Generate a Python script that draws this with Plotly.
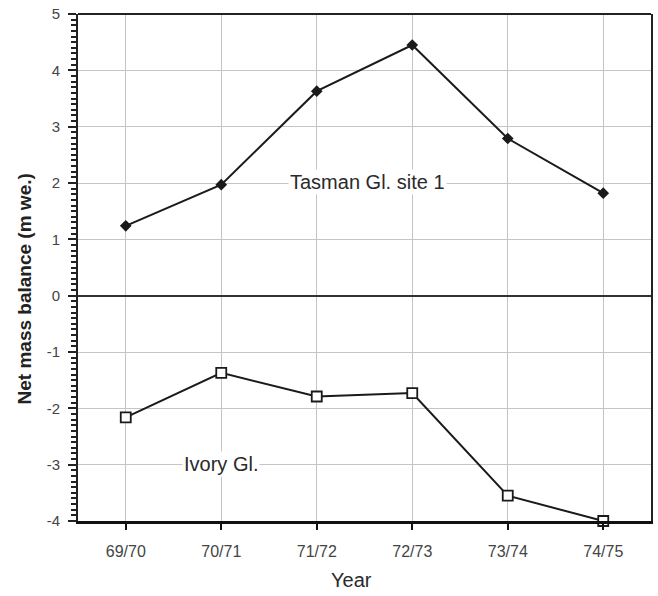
import plotly.graph_objects as go

years = ["69/70", "70/71", "71/72", "72/73", "73/74", "74/75"]
tasman = [1.24, 1.97, 3.63, 4.45, 2.79, 1.82]
ivory = [-2.16, -1.37, -1.79, -1.73, -3.55, -4.0]
y_alias = {"\u22121": "-1", "\u22122": "-2", "\u22123": "-3", "\u22124": "-4"}
y_range = [-4, 5]

FONT = "Liberation Sans, Arial, sans-serif"

fig = go.Figure()
fig.add_trace(go.Scatter(
    x=years, y=tasman, mode="lines+markers", name="Tasman Gl. site 1",
    line=dict(color="#1a1a1a", width=2),
    marker=dict(symbol="diamond", size=9, color="#1a1a1a"),
    cliponaxis=False,
))
fig.add_trace(go.Scatter(
    x=years, y=ivory, mode="lines+markers", name="Ivory Gl.",
    line=dict(color="#1a1a1a", width=2),
    marker=dict(symbol="square", size=10, color="white", line=dict(color="#1a1a1a", width=1.8)),
    cliponaxis=False,
))

fig.add_annotation(x=2.53, y=2.02, text="Tasman Gl. site 1", showarrow=False,
                   font=dict(family=FONT, size=20, color="#2a2a2a"), bgcolor="white")
fig.add_annotation(x=1.0, y=-2.98, text="Ivory Gl.", showarrow=False,
                   font=dict(family=FONT, size=20, color="#2a2a2a"), bgcolor="white")

# axis titles
fig.add_annotation(xref="paper", yref="paper", x=-0.094, y=0.457, text="<b>Net mass balance (m we.)</b>",
                   xanchor="center", yanchor="middle",
                   textangle=-90, showarrow=False, font=dict(family=FONT, size=19, color="#222"))
fig.add_annotation(xref="paper", yref="paper", x=0.4765, y=-0.1164, text="Year",
                   xanchor="center", yanchor="middle",
                   showarrow=False, font=dict(family=FONT, size=20, color="#2a2a2a"))

# top frame line
fig.add_shape(type="line", xref="paper", yref="paper", x0=0, x1=1, y0=1, y1=1,
              line=dict(color="#222", width=2))

fig.update_layout(
    width=658, height=596,
    margin=dict(l=78, r=5, t=14, b=75),
    paper_bgcolor="white", plot_bgcolor="white",
    showlegend=False,
    font=dict(family=FONT, color="#333"),
    xaxis=dict(
        type="category", range=[-0.5, 5.5],
        showgrid=True, gridcolor="#c4c4c4", gridwidth=1,
        showline=True, linecolor="#111", linewidth=3,
        ticks="outside", ticklen=6, tickwidth=2, tickcolor="#111",
        ticklabelstandoff=8,
        tickfont=dict(family=FONT, size=16, color="#444"),
    ),
    yaxis=dict(
        range=y_range, tickmode="linear", tick0=0, dtick=1, labelalias=y_alias,
        showgrid=True, gridcolor="#c4c4c4", gridwidth=1,
        zeroline=True, zerolinecolor="#333", zerolinewidth=2,
        showline=True, linecolor="#222", linewidth=2, mirror=True,
        ticks="outside", ticklen=8, tickwidth=2, tickcolor="#222",
        ticklabelstandoff=5,
        minor=dict(ticks="outside", dtick=0.1, ticklen=5, tickwidth=1.5, tickcolor="#222"),
        tickfont=dict(family=FONT, size=15, color="#444"),
    ),
)

fig.write_html("out.html")
